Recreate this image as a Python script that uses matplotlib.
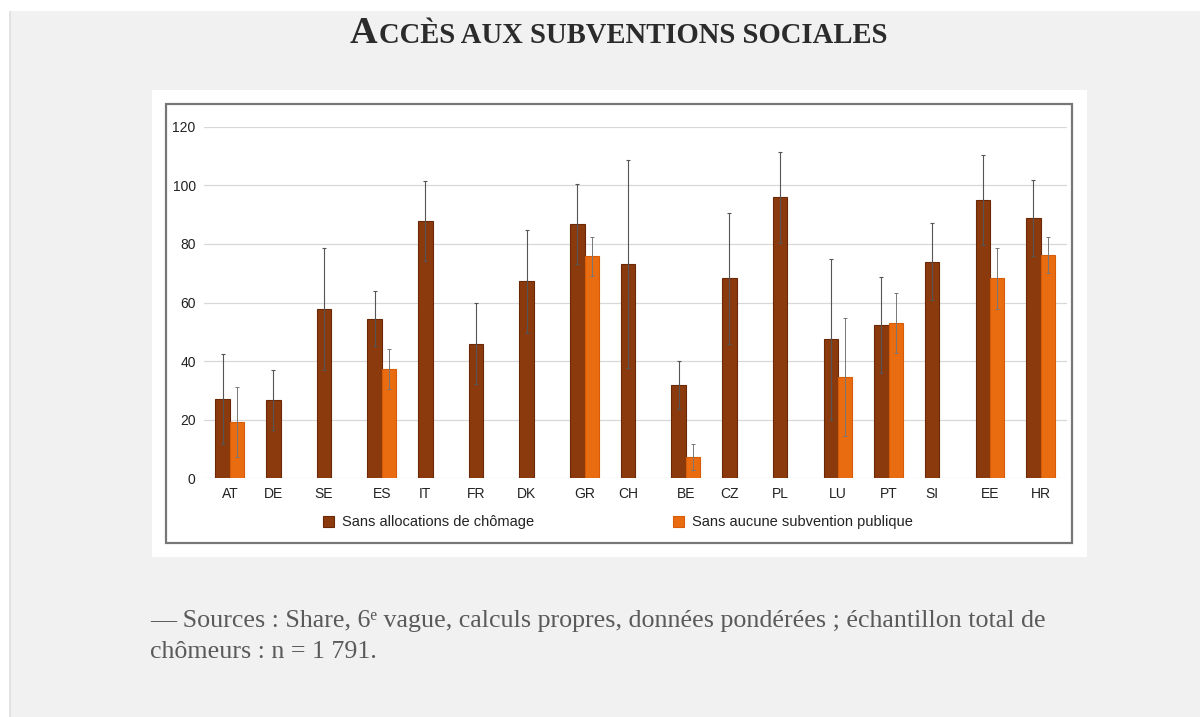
import numpy as np
import matplotlib.pyplot as plt
from matplotlib.patches import Rectangle

# Data
pays = ["AT", "DE", "SE", "ES", "IT", "FR", "DK", "GR", "CH",
        "BE", "CZ", "PL", "LU", "PT", "SI", "EE", "HR"]
sans_chomage = [27.1, 26.8, 57.8, 54.5, 87.8, 46.0, 67.2, 86.9, 73.3,
                31.7, 68.2, 95.9, 47.4, 52.3, 73.9, 95.0, 88.8]
sans_chomage_err = [15.3, 10.2, 20.9, 9.3, 13.8, 13.7, 17.6, 13.7, 35.5,
                    8.2, 22.3, 15.6, 27.4, 16.3, 13.2, 15.5, 12.9]
sans_subvention = [19.3, np.nan, np.nan, 37.2, np.nan, np.nan, np.nan, 75.7, np.nan,
                   7.2, np.nan, np.nan, 34.6, 53.0, np.nan, 68.2, 76.3]
sans_subvention_err = [12.0, np.nan, np.nan, 6.8, np.nan, np.nan, np.nan, 6.8, np.nan,
                       4.4, np.nan, np.nan, 20.0, 10.2, np.nan, 10.3, 6.2]
yticks = [0, 20, 40, 60, 80, 100, 120]

titre = "Accès aux subventions sociales"
legende = ["Sans allocations de chômage", "Sans aucune subvention publique"]
source = ("— Sources : Share, 6ᵉ vague, calculs propres, données pondérées ; échantillon total de\n"
          "chômeurs : n = 1 791.")

DARK = "#8b3a0d"
ORANGE = "#ea6c10"
BG = "#f1f1f1"

fig = plt.figure(figsize=(12, 7.17), dpi=100)
fig.patch.set_facecolor(BG)

# white page strips (top and left) and the white image box of the chart
W, H = 1200, 717
def px_rect(x0, y0, x1, y1, **kw):
    fig.patches.append(Rectangle((x0 / W, 1 - y1 / H), (x1 - x0) / W, (y1 - y0) / H,
                                 transform=fig.transFigure, figure=fig, **kw))

px_rect(0, 0, W, 11, facecolor="white", edgecolor="none", zorder=-3)
px_rect(0, 0, 9, H, facecolor="white", edgecolor="none", zorder=-3)
px_rect(9, 11, 11, H, facecolor="#e2e2e2", edgecolor="none", zorder=-3)
px_rect(152, 90, 1087, 557, facecolor="white", edgecolor="none", zorder=-3)
px_rect(166, 104, 1072, 543, facecolor="none", edgecolor="#777777", linewidth=1.6, zorder=-2)

ax = fig.add_axes([204 / W, 1 - 478.3 / H, (1067 - 204) / W, (478.3 - 126.7) / H])
ax.set_facecolor("none")
ax.set_zorder(2)

x = np.arange(len(pays))
w = 0.285
a = np.array(sans_chomage)
b = np.array(sans_subvention)
has_b = ~np.isnan(b)

# dark bar sits left of slot centre, orange bar right of it
xa = x - w / 2
xb = x + w / 2

ax.bar(xa, a, width=w, color=DARK, edgecolor="#6a2806", linewidth=0.8, zorder=2,
       label=legende[0])
ax.bar(xb[has_b], b[has_b], width=w, color=ORANGE, edgecolor="#d85c08", linewidth=0.8,
       zorder=2, label=legende[1])
ax.errorbar(xa, a, yerr=sans_chomage_err, fmt="none", ecolor="#555555",
            elinewidth=0.8, capsize=1.5, capthick=0.8, zorder=3)
ax.errorbar(xb[has_b], b[has_b], yerr=np.array(sans_subvention_err)[has_b], fmt="none",
            ecolor="#777777", elinewidth=0.7, capsize=1.5, capthick=0.7, zorder=3)

# labels centred under the visible bars
label_x = np.where(has_b, x, xa)
ax.set_xticks(label_x)
ax.set_xticklabels(pays, fontsize=10, color="#222222", family="Liberation Sans")
ax.set_yticks(yticks)
ax.set_yticklabels([str(t) for t in yticks], fontsize=10, color="#222222",
                   family="Liberation Sans")
ax.tick_params(length=0, pad=6)
ax.tick_params(axis="x", pad=6)
ax.set_xlim(-0.51, 16.52)
ax.set_ylim(0, 120)
ax.yaxis.grid(True, color="#d8d8d8", linewidth=0.9)
ax.set_axisbelow(True)
for s in ax.spines.values():
    s.set_visible(False)

leg = ax.legend(ncol=2, loc="upper left", bbox_to_anchor=(0.13, -0.085), frameon=False,
                prop={"family": "Liberation Sans", "size": 10.5}, handlelength=0.75,
                handleheight=0.75, handletextpad=0.55, columnspacing=9.5, borderpad=0)
for t in leg.get_texts():
    t.set_color("#222222")

# title in small caps, built from a large initial and smaller capitals
t1 = fig.text(350 / W, 1 - 43 / H, titre[0].upper(), fontsize=27.5, fontweight="bold",
              family="Liberation Serif", color="#2b2b2b", va="baseline", ha="left")
fig.canvas.draw()
bb = t1.get_window_extent()
fig.text(bb.x1 / W + 1 / W, 1 - 43 / H, titre[1:].upper(), fontsize=20.6, fontweight="bold",
         family="Liberation Serif", color="#2b2b2b", va="baseline", ha="left")

fig.text(150 / W, 1 - 658 / H, source, fontsize=18.7, family=["Liberation Serif", "DejaVu Serif"],
         color="#5a5a5a", va="baseline", ha="left", linespacing=1.52)

fig.savefig("out.png", dpi=100, facecolor=fig.get_facecolor())
